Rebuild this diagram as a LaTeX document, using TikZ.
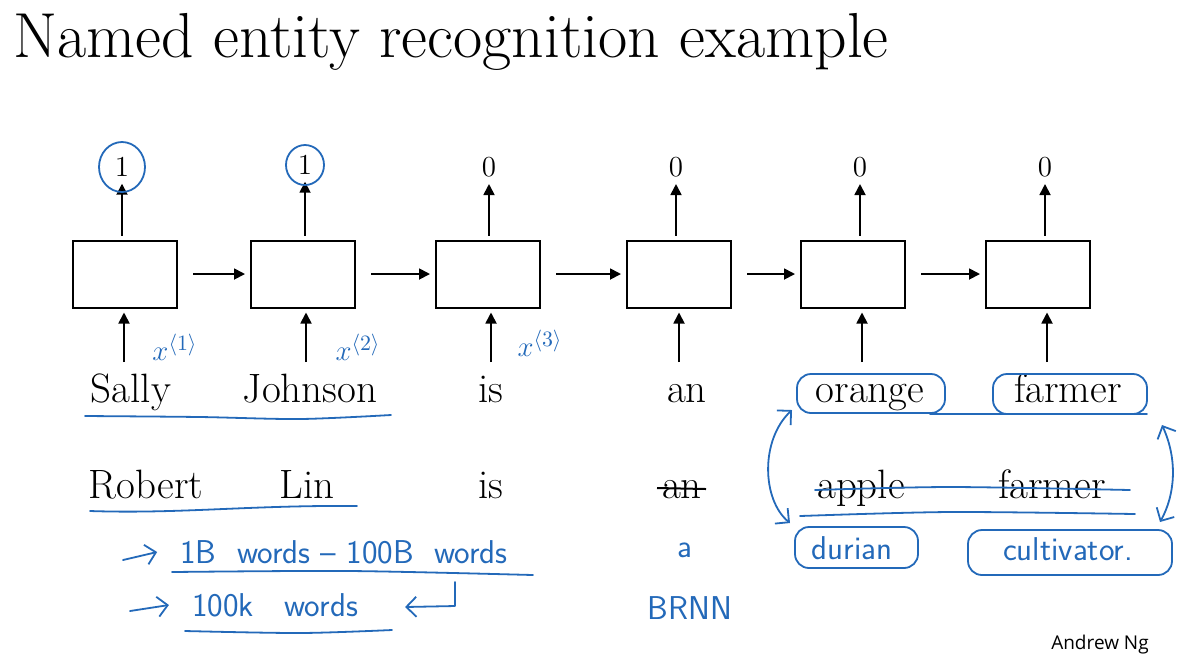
\documentclass[tikz,border=0pt]{standalone}
\usepackage{fontspec}
\newfontfamily\signfont{Open Sans}
\usetikzlibrary{arrows.meta}
\definecolor{penblue}{RGB}{35,105,185}

\begin{document}
\begin{tikzpicture}[x=0.5pt,y=-0.5pt,
  cell/.style={draw,line width=1pt,minimum width=52pt,minimum height=33.5pt,inner sep=0pt},
  arr/.style={-{Triangle[length=5.5pt,width=5.5pt]},line width=0.9pt},
  word/.style={anchor=base,font=\fontsize{20.5}{22}\selectfont},
  digit/.style={font=\fontsize{14.5}{16}\selectfont},
  pen/.style={penblue,line width=0.9pt,line cap=round,line join=round},
  hand/.style={penblue,font=\sffamily\fontsize{16.5}{18}\selectfont}]
\useasboundingbox (0,0) rectangle (1182,661);
\node[anchor=base west,font=\fontsize{31.8}{34}\selectfont,inner sep=0pt] (title) at (13,57) {Named entity recognition example};

\node[cell] (b1) at (125,274) {};
\node[cell] (b2) at (303,274) {};
\node[cell] (b3) at (488,274) {};
\node[cell] (b4) at (679,274) {};
\node[cell] (b5) at (853,274) {};
\node[cell] (b6) at (1038,274) {};
\draw[arr, shorten <=7.5pt, shorten >=2.5pt] (b1) -- (b2);
\draw[arr, shorten <=7.5pt, shorten >=2.5pt] (b2) -- (b3);
\draw[arr, shorten <=7.5pt, shorten >=2.5pt] (b3) -- (b4);
\draw[arr, shorten <=7.5pt, shorten >=2.5pt] (b4) -- (b5);
\draw[arr, shorten <=7.5pt, shorten >=2.5pt] (b5) -- (b6);

\node[digit] (y1) at (122,167) {1};
\node[digit] (y2) at (305,165) {1};
\node[digit] (y3) at (489,167) {0};
\node[digit] (y4) at (676,167) {0};
\node[digit] (y5) at (860,167) {0};
\node[digit] (y6) at (1045,167) {0};
\draw[arr, shorten <=2pt] (b1.north -| y1) -- (y1);
\draw[arr, shorten <=2pt] (b2.north -| y2) -- (y2);
\draw[arr, shorten <=2pt] (b3.north -| y3) -- (y3);
\draw[arr, shorten <=2pt] (b4.north -| y4) -- (y4);
\draw[arr, shorten <=2pt] (b5.north -| y5) -- (y5);
\draw[arr, shorten <=2pt] (b6.north -| y6) -- (y6);

\coordinate (in1) at (124,362);
\coordinate (in2) at (306,362);
\coordinate (in3) at (491,362);
\coordinate (in4) at (679,362);
\coordinate (in5) at (862,362);
\coordinate (in6) at (1047,362);
\draw[arr, shorten >=2pt] (in1) -- (in1 |- b1.south);
\draw[arr, shorten >=2pt] (in2) -- (in2 |- b2.south);
\draw[arr, shorten >=2pt] (in3) -- (in3 |- b3.south);
\draw[arr, shorten >=2pt] (in4) -- (in4 |- b4.south);
\draw[arr, shorten >=2pt] (in5) -- (in5 |- b5.south);
\draw[arr, shorten >=2pt] (in6) -- (in6 |- b6.south);

\node[word] (w1) at (131,402) {Sally};
\node[word] (w2) at (310,402) {Johnson};
\node[word] (w3) at (491,402) {is};
\node[word] (w4) at (687,402) {an};
\node[word] (w5) at (870,402) {orange};
\node[word] (w6) at (1068,402) {farmer};
\node[word] (r1) at (146,498) {Robert};
\node[word] (r2) at (307,498) {Lin};
\node[word] (r3) at (491,498) {is};
\node[word] (r4) at (682,498) {an};
\node[word] (r5) at (861,498) {apple};
\node[word] (r6) at (1052,498) {farmer};

\draw[pen] (y1) ellipse (11.5pt and 12.5pt);
\draw[pen] (y2) ellipse (9.5pt and 10pt);
\node[penblue,font=\fontsize{15}{17}\selectfont] (x1) at (175,347) {$x^{\langle 1\rangle}$};
\node[penblue,font=\fontsize{15}{17}\selectfont] (x2) at (358,347) {$x^{\langle 2\rangle}$};
\node[penblue,font=\fontsize{15}{17}\selectfont] (x3) at (540,343) {$x^{\langle 3\rangle}$};

\draw[pen] plot[smooth] coordinates {(85,416) (200,417) (300,419) (391,415)};
\draw[pen] (90,511) .. controls (180,514) and (250,505) .. (357,506);

\node[hand] (t1) at (344,552) {1B\ \ words -- 100B\ \ words};
\node[hand] (t2) at (275,605) {100k\ \ \ words};
\coordinate (a1) at (123,560);
\coordinate (a2) at (130,611);
\draw[pen,-{Straight Barb[length=5pt]}] (a1) -- ([xshift=-8pt]t1.west);
\draw[pen,-{Straight Barb[length=5pt]}] (a2) -- ([xshift=-8pt]t2.west);
\draw[pen] plot[smooth] coordinates {(172,572) (350,571) (533,575)};
\draw[pen] plot[smooth] coordinates {(185,631) (300,633) (392,630)};
\coordinate (ret) at (455,582);
\draw[pen,-{Straight Barb[length=5pt]}] (ret) -- ++(0,24) -- ([xshift=20pt,yshift=-1pt]t2.east);

\node[hand] (a) at (685,550) {a};
\node[hand] (brnn) at (690,608) {BRNN};

\draw[line width=1pt] (657,488) -- (706,489);
\draw[pen] plot[smooth] coordinates {(815,490) (950,487) (1130,490)};
\draw[pen] plot[smooth] coordinates {(800,516) (950,512) (1135,514)};

\draw[pen,rounded corners=7pt] (797,374) rectangle (945,413);
\draw[pen,rounded corners=7pt] (993,374) rectangle (1147,414);
\draw[pen] (930,414) -- (1147,414);
\draw[pen,{Straight Barb[length=5pt]}-{Straight Barb[length=5pt]}] (792,410) .. controls (760,440) and (762,500) .. (790,523);
\draw[pen,{Straight Barb[length=5pt]}-{Straight Barb[length=5pt]}] (1162,425) .. controls (1178,460) and (1175,495) .. (1160,522);

\node[hand] (dur) at (852,548) {durian};
\node[hand] (cult) at (1068,549) {cultivator.};
\draw[pen,rounded corners=7pt] (795,527) rectangle (918,568);
\draw[pen,rounded corners=7pt] (968,530) rectangle (1172,575);

\node[font=\signfont\fontsize{9.5}{11}\selectfont] (sig) at (1100,645) {Andrew Ng};
\end{tikzpicture}
\end{document}
